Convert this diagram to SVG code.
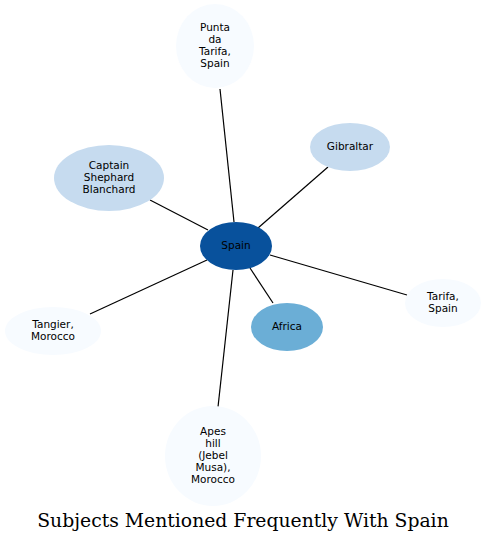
<svg xmlns="http://www.w3.org/2000/svg" width="487" height="542" viewBox="0 0 487 542">
<style>
.n text{font-family:"DejaVu Sans",sans-serif;font-size:10.5px;text-anchor:middle;fill:#000}
.e line{stroke:#000;stroke-width:1.2}
.t{font-family:"DejaVu Serif",serif;font-size:18.8px;text-anchor:middle;fill:#000}
</style>
<rect width="487" height="542" fill="#fff"/>
<g id="edges" class="e">
<line x1="234" y1="222" x2="220" y2="89"/>
<line x1="258" y1="228" x2="328" y2="167"/>
<line x1="208" y1="230" x2="150" y2="200"/>
<line x1="270" y1="255" x2="407" y2="295"/>
<line x1="250" y1="268" x2="273" y2="303"/>
<line x1="207" y1="260" x2="90" y2="314"/>
<line x1="233" y1="270" x2="218" y2="407"/>
</g>
<g id="punta" class="n"><ellipse cx="215" cy="46" rx="39" ry="42" fill="#f7fbff"/><text x="215" y="31">Punta</text><text x="215" y="43">da</text><text x="215" y="55">Tarifa,</text><text x="215" y="67">Spain</text></g>
<g id="gibraltar" class="n"><ellipse cx="350" cy="147" rx="40" ry="24" fill="#c6dbef"/><text x="350" y="150">Gibraltar</text></g>
<g id="captain" class="n"><ellipse cx="109" cy="178" rx="55" ry="33" fill="#c6dbef"/><text x="109" y="169">Captain</text><text x="109" y="181">Shephard</text><text x="109" y="193">Blanchard</text></g>
<g id="spain" class="n"><ellipse cx="236" cy="246" rx="36" ry="24" fill="#08519c"/><text x="236" y="249">Spain</text></g>
<g id="tarifa" class="n"><ellipse cx="443" cy="303" rx="38" ry="24" fill="#f7fbff"/><text x="443" y="300">Tarifa,</text><text x="443" y="312">Spain</text></g>
<g id="africa" class="n"><ellipse cx="287" cy="327" rx="36" ry="24" fill="#6baed6"/><text x="287" y="330">Africa</text></g>
<g id="tangier" class="n"><ellipse cx="53" cy="331" rx="48" ry="24" fill="#f7fbff"/><text x="53" y="328">Tangier,</text><text x="53" y="340">Morocco</text></g>
<g id="apes" class="n"><ellipse cx="213" cy="456" rx="48" ry="50" fill="#f7fbff"/><text x="213" y="435">Apes</text><text x="213" y="447">hill</text><text x="213" y="459">(Jebel</text><text x="213" y="471">Musa),</text><text x="213" y="483">Morocco</text></g>
<text class="t" x="243" y="527">Subjects Mentioned Frequently With Spain</text>
</svg>
